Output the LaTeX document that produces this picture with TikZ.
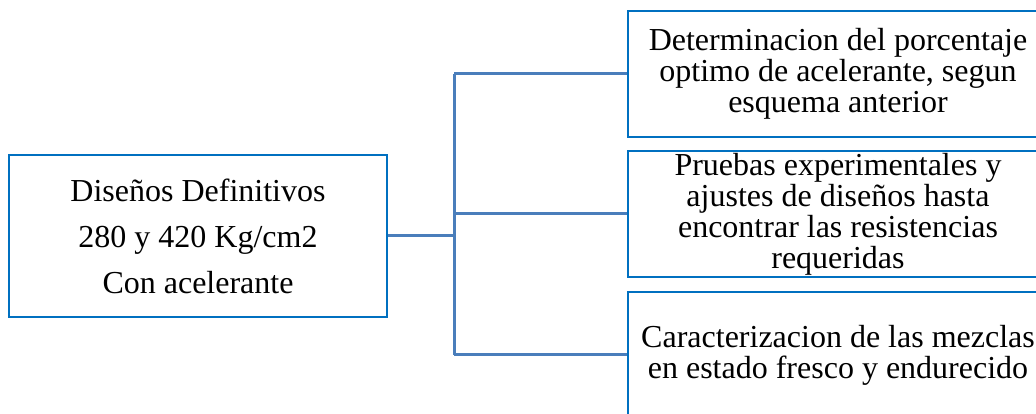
\documentclass[tikz,border=0pt]{standalone}
\usepackage{fontspec}
\setmainfont{Liberation Serif}
\definecolor{boxblue}{RGB}{0,112,192}
\definecolor{lineblue}{RGB}{74,126,187}
\begin{document}
\begin{tikzpicture}[x=1pt,y=1pt,
  rbox/.style={draw=boxblue,line width=2.8pt,minimum width=420pt,minimum height=126pt,inner sep=0pt,align=center,font=\fontsize{32}{31}\selectfont},
  lbox/.style={draw=boxblue,line width=2.8pt,minimum width=378pt,minimum height=162pt,inner sep=0pt,align=center,font=\fontsize{32}{46}\selectfont},
  conn/.style={draw=lineblue,line width=3pt}]
\clip (0,0) rectangle (1036,414);
\fill[white] (0,0) rectangle (1036,414);
\node[lbox] (L) at (198,178) {Diseños Definitivos\\280 y 420 Kg/cm2\\Con acelerante};
\node[rbox] (R1) at (838,340) {Determinacion del porcentaje\\optimo de acelerante, segun\\esquema anterior};
\node[rbox] (R2) at (838,200) {Pruebas experimentales y\\ajustes de diseños hasta\\encontrar las resistencias\\requeridas};
\node[rbox] (R3) at (838,59) {Caracterizacion de las mezclas\\en estado fresco y endurecido};
\coordinate (J) at (454,178);
\draw[conn] (L.east) -- (J);
\draw[conn] (J |- R1.west) -- (J |- R3.west);
\draw[conn] (J |- R1.west) -- (R1.west);
\draw[conn] (J |- R2.west) -- (R2.west);
\draw[conn] (J |- R3.west) -- (R3.west);
\end{tikzpicture}
\end{document}
